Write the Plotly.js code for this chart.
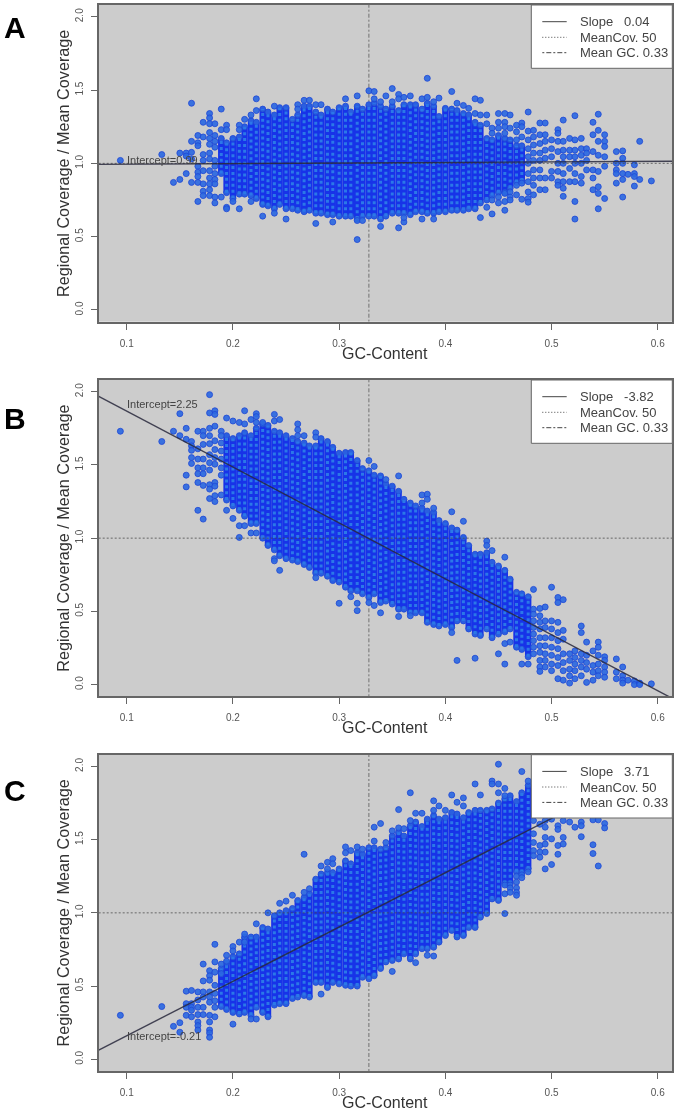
<!DOCTYPE html>
<html><head><meta charset="utf-8">
<script src="https://cdn.plot.ly/plotly-3.0.1.min.js"></script>
<style>html,body{margin:0;padding:0;background:#fff}#p{width:678px;height:1113px;filter:blur(.4px)}</style></head>
<body><div id="p"></div>
<script>
const panelNames=["A","B","C"];
const slopes=[0.04,-3.82,3.71];
const intercepts=[0.99,2.25,-0.21];
const meanCovRatio=1.0, meanGC=0.328;
const interceptLabels=["Intercept=0.99","Intercept=2.25","Intercept=-0.21"];
const interceptLabelY=[1.02,1.915,0.16];
const slopeLabels=["Slope\u00a0\u00a0\u00a00.04","Slope\u00a0\u00a0\u00a0-3.82","Slope\u00a0\u00a0\u00a03.71"];
const xTicks=[0.1,0.2,0.3,0.4,0.5,0.6];
const yTicks=[0,0.5,1,1.5,2];
const yTickText=["0.0","0.5","1.0","1.5","2.0"];

// dense body of each cloud: per GC column, the lowest and highest covered value
const coreGc=[.189,.194,.2,.206,.211,.217,.222,.228,.233,.239,.244,.25,.256,.261,.267,.272,.278,.283,.289,.294,.3,.306,.311,.317,.322,.328,.333,.339,.344,.35,.356,.361,.367,.372,.378,.383,.389,.394,.4,.406,.411,.417,.422,.428,.433,.439,.444,.45,.456,.461,.467,.472,.478];
const lowA=[.93,.80,.76,.79,.79,.78,.76,.72,.71,.69,.72,.69,.69,.68,.67,.68,.66,.66,.65,.65,.64,.64,.64,.62,.64,.64,.64,.62,.64,.66,.66,.66,.65,.67,.67,.66,.66,.67,.67,.68,.68,.68,.69,.69,.73,.75,.78,.80,.80,.83,.87,.88,null];
const highA=[1.17,1.14,1.17,1.18,1.25,1.29,1.28,1.37,1.35,1.33,1.38,1.38,1.30,1.33,1.39,1.39,1.35,1.33,1.37,1.35,1.38,1.39,1.35,1.39,1.37,1.40,1.41,1.39,1.37,1.39,1.36,1.40,1.40,1.40,1.37,1.41,1.39,1.32,1.375,1.37,1.36,1.34,1.33,1.28,1.26,1.17,1.16,1.19,1.17,1.16,1.12,1.12,null];
const lowB=[null,1.26,1.22,1.19,1.15,1.10,1.10,1.0,.95,.92,.88,.86,.85,.84,.82,.80,.76,.76,.74,.71,.70,.665,.64,.64,.62,.595,.62,.56,.57,.55,.515,.515,.49,.49,.49,.425,.41,.40,.41,.39,.435,.435,.38,.345,.335,.38,.32,.345,.36,.38,.255,.24,.19];
const highB=[null,1.70,1.68,1.70,1.72,1.70,1.75,1.78,1.77,1.73,1.72,1.70,1.68,1.66,1.65,1.63,1.63,1.68,1.66,1.62,1.58,1.585,1.585,1.53,1.475,1.46,1.43,1.425,1.37,1.355,1.32,1.265,1.24,1.22,1.205,1.185,1.175,1.12,1.10,1.07,1.055,1.005,.95,.89,.89,.90,.835,.81,.78,.72,.63,.62,.60];
const lowC=[.36,.34,.32,.31,.32,.30,.355,.32,.29,.37,.38,.38,.415,.425,.435,.425,.525,.525,.49,.525,.515,.505,.50,.50,.56,.55,.57,.62,.665,.675,.685,.72,.685,.72,.755,.755,.765,.80,.845,.88,.835,.845,.90,.90,.97,.995,1.095,1.085,1.2,1.2,1.28,1.275,1.30];
const highC=[.62,.66,.70,.72,.835,.835,.835,.90,.89,.98,1.0,1.015,1.03,1.085,1.105,1.13,1.23,1.265,1.275,1.275,1.30,1.355,1.335,1.41,1.40,1.445,1.445,1.435,1.445,1.525,1.55,1.525,1.595,1.62,1.59,1.64,1.665,1.64,1.65,1.685,1.675,1.65,1.685,1.70,1.70,1.70,1.71,1.75,1.78,1.80,1.76,1.82,1.87];

// individually readable points: [GC column, [values]]
const pointsA=[[.094,[1.02]],[.133,[1.06]],[.144,[.87]],[.15,[1.07,.89]],[.156,[1.07,1.05,.93]],[.161,[1.41,1.15,1.075,1.03,.87]],
[.167,[1.19,1.14,1.12,.98,.94,.91,.87,.74]],[.172,[1.28,1.18,1.06,1.02,.95,.86,.81,.78]],[.178,[1.34,1.31,1.27,1.21,1.17,1.13,1.07,1.03,.95,.9,.86,.82,.78]],
[.183,[1.27,1.19,1.15,1.11,1.02,.98,.93,.89,.86,.77,.73]],[.189,[1.37,1.23,.77]],[.194,[1.26,1.23,.70,.69]],[.2,[.74]],[.206,[1.26,1.23,.69]],[.211,[1.3]],[.217,[1.33,.74]],[.222,[1.36,1.44]],[.228,[.64]],[.239,[1.39,.66]],[.25,[.62]],[.261,[1.40,1.37]],[.267,[1.43]],[.272,[1.43]],[.278,[1.40,.59]],[.283,[1.40]],[.294,[.60]],
[.306,[1.44]],[.317,[1.46,.61,.48]],[.322,[.61]],[.328,[1.495]],[.333,[1.49,1.44]],[.339,[1.42,.57]],[.344,[1.46]],[.35,[1.51,1.42]],[.356,[1.47,1.44,.56]],[.361,[1.45,.60,.63]],[.367,[1.46]],[.378,[1.44,.62]],[.383,[1.58,1.45]],[.389,[1.42,.62]],[.394,[1.445]],[.406,[1.49]],[.411,[1.41]],[.417,[1.395]],[.422,[1.375]],[.428,[1.44,1.34]],[.433,[1.43,1.33,.63]],[.439,[1.33,1.27,.70]],
[.444,[1.24,1.205,.75,.655]],[.45,[1.34,1.28,1.24,.77,.73]],[.456,[1.34,1.28,1.25,1.205,.795,.74,.68]],[.461,[1.33,1.24,.805,.77,.75]],[.467,[1.26,1.215,1.16,.85,.785]],[.472,[1.275,1.25,1.18,.865,.755]],[.478,[1.35,1.22,1.16,1.10,1.045,1.0,.93,.875,.805,.76,.735]],[.483,[1.225,1.18,1.125,1.07,1.02,.955,.90,.85,.785]],[.489,[1.275,1.195,1.135,1.07,1.02,.955,.90,.82]],[.494,[1.275,1.195,1.15,1.09,1.035,.90,.82]],[.5,[1.16,1.10,1.045,.945,.90]],[.506,[1.23,1.205,1.15,1.08,1.0,.945,.875,.85]],[.511,[1.295,1.15,1.09,1.045,1.0,.93,.875,.83,.775]],[.517,[1.17,1.09,1.045,.965,.875]],[.522,[1.325,1.16,1.09,1.045,1.0,.93,.875,.74,.62]],[.528,[1.17,1.10,1.055,1.0,.91,.865]],[.533,[1.10,1.07,1.02,.955]],[.539,[1.28,1.195,1.08,.955,.90,.82]],[.544,[1.335,1.225,1.15,1.055,.945,.84,.795,.69]],[.55,[1.195,1.15,1.115,1.045,.98,.76]],[.561,[1.08,1.0,.955,.93,.865]],[.567,[1.085,1.035,1.0,.93,.89,.77]],[.572,[.925]],[.578,[.99,.93,.91,.845]],[.583,[1.15,.89]],[.594,[.88]]];
const pointsB=[[.094,[1.73]],[.133,[1.66]],[.144,[1.73]],[.15,[1.85,1.70]],[.156,[1.75,1.675,1.43,1.35]],[.161,[1.66,1.63,1.60,1.55,1.51]],[.167,[1.73,1.61,1.54,1.48,1.44,1.38,1.19]],[.172,[1.73,1.70,1.64,1.54,1.48,1.44,1.36,1.13]],[.178,[1.98,1.855,1.75,1.70,1.645,1.57,1.515,1.465,1.365,1.335,1.27]],[.183,[1.87,1.845,1.765,1.665,1.605,1.55,1.505,1.38,1.355,1.29,1.25]],[.189,[1.73,1.70,1.65,1.595,1.54,1.48,1.43,1.295]],[.194,[1.82,1.19]],[.2,[1.80,1.135]],[.206,[1.79,1.085,1.005]],[.211,[1.87,1.78,1.085]],[.217,[1.81,1.035]],[.222,[1.85,1.83,1.79,1.035]],[.228,[1.79]],[.239,[1.845,1.80,.86,.845]],[.244,[1.81,.78]],[.261,[1.78,1.74,1.70]],[.267,[1.70]],[.278,[1.72,1.69,.73]],[.3,[.555]],
[.311,[.60]],[.317,[.555,.505]],[.328,[1.53,.56]],[.333,[1.49,.54]],[.339,[.49]],[.344,[1.40]],[.356,[1.425,.465]],[.367,[.47]],[.378,[1.295,1.24]],[.383,[1.30,1.265]],[.389,[1.205]],[.406,[1.18,.355]],[.411,[.165]],[.417,[1.115]],[.428,[.18]],[.439,[.98,.95]],[.444,[.915]],[.45,[.21]],[.456,[.87,.28,.14]],[.461,[.29]],[.472,[.14]],[.478,[.14]],
[.483,[.65,.515,.48,.435,.39,.345,.30,.255,.21]],[.489,[.52,.47,.425,.38,.32,.265,.22,.165,.12,.09]],[.494,[.53,.435,.39,.32,.265,.21,.165,.12]],[.5,[.665,.435,.38,.32,.255,.20,.14,.095]],[.506,[.595,.56,.425,.355,.30,.245,.185,.13,.04]],[.511,[.58,.37,.31,.21,.15,.095,.03]],[.517,[.21,.165,.105,.06,.01]],[.522,[.23,.185,.14,.095,.04]],[.528,[.40,.355,.21,.165,.12,.06]],[.533,[.29,.20,.15,.105,.015]],[.539,[.23,.13,.085,.03]],[.544,[.29,.255,.20,.14,.095,.06]],[.55,[.19,.165,.12,.085,.05]],[.561,[.175,.085,.04]],[.567,[.12,.06,.03,.01]],[.572,[.03]],[.578,[.025,0]],[.583,[.01,0]],[.594,[.005]]];
const pointsC=[[.094,[.30]],[.133,[.36]],[.144,[.225]],[.15,[.25,.185]],[.156,[.465,.38,.355,.30]],[.161,[.47,.38,.355,.335,.29]],[.167,[.46,.405,.355,.305,.255,.23,.20]],[.172,[.65,.535,.46,.425,.355,.305]],[.178,[.605,.57,.54,.46,.425,.39,.30,.255,.2,.18,.15]],[.183,[.785,.665,.595,.505,.45,.40,.355,.29]],[.189,[.65,.585]],[.194,[.71,.67]],[.2,[.77,.74,.24]],[.206,[.80]],[.211,[.855,.80]],[.217,[.275]],[.222,[.925,.275]],[.233,[1.0]],[.244,[1.065]],[.25,[1.08]],[.256,[1.12]],[.267,[1.40,1.14]],[.272,[1.165]],[.283,[1.32,.445]],[.289,[1.345,1.30]],[.294,[1.37,1.335]],[.306,[1.45,1.41]],[.311,[1.425]],[.317,[1.45]],[.322,[1.435]],[.333,[1.585,1.49]],[.339,[1.61]],[.344,[1.48]],[.35,[1.56,.60]],[.356,[1.705,1.58]],[.361,[1.575]],[.367,[1.82,1.63]],[.372,[1.68,.66]],[.378,[1.68]],[.383,[.71]],[.389,[1.765,1.70,.705]],[.394,[1.73]],[.4,[1.70]],[.406,[1.805]],[.411,[1.755]],[.417,[1.785,1.73]],[.428,[1.88]],[.433,[1.805]],[.444,[1.90,1.88]],[.45,[2.015,1.88,1.82]],[.456,[1.85,1.80,1.19,1.13,.995]],[.461,[1.19,1.17,1.14]],[.467,[1.25,1.21,1.17,1.14,1.12]],[.472,[1.965,1.26,1.24]],[.478,[1.90,1.28]],[.483,[1.63,1.54,1.48,1.425,1.39]],[.489,[1.605,1.46,1.415,1.38]],[.494,[1.63,1.585,1.515,1.47,1.415,1.30]],[.5,[1.64,1.505,1.33]],[.506,[1.595,1.57,1.46,1.40]],[.511,[1.63,1.515,1.47]],[.517,[1.62]],[.522,[1.585]],[.528,[1.62,1.595,1.52]],[.539,[1.635,1.465,1.405]],[.544,[1.635,1.32]],[.55,[1.61,1.58]]];

const lows=[lowA,lowB,lowC], highs=[highA,highB,highC], points=[pointsA,pointsB,pointsC];
const W=678,H=1113,plotL=98.7,plotR=672.3,legL=531.3;
const tops=[5,380,754.7],bots=[321.7,696.3,1071];
const xR=[.0736,.6137],yR=[-.08,2.08];
const px=v=>v/W, py=v=>1-v/H;
const lineCol="rgba(40,40,60,0.85)";
const traces=[],shapes=[],annos=[],layout={};

panelNames.forEach((name,i)=>{
  const s=i?String(i+1):"", xa="x"+s, ya="y"+s;
  const base={xaxis:xa,yaxis:ya,showlegend:false,hoverinfo:"skip"};
  // mean GC line sits under the points
  traces.push({...base,type:"scatter",mode:"lines",x:[meanGC,meanGC],y:yR,line:{color:"rgba(90,90,90,.8)",width:1,dash:"2px,2px,4px,2px"}});
  const cx=[],cy=[],ex=[],ey=[];
  coreGc.forEach((g,k)=>{ if(lows[i][k]==null) return;
    cx.push(g,g,null); cy.push(lows[i][k],highs[i][k],null);
    ex.push(g,g); ey.push(lows[i][k],highs[i][k]); });
  traces.push({...base,type:"scatter",mode:"lines",connectgaps:false,x:cx,y:cy,line:{color:"#1733e8",width:6.4}});
  traces.push({...base,type:"scatter",mode:"markers",x:ex,y:ey,marker:{size:6,color:"#2a5fe0",line:{color:"#1e46d6",width:.8}}});
  traces.push({...base,type:"scatter",mode:"lines",connectgaps:false,x:cx,y:cy,line:{color:"#2b78e8",width:3,dash:"3px,2.9px"}});
  const fx=[],fy=[];
  points[i].forEach(([g,vals])=>vals.forEach(v=>{fx.push(g);fy.push(v);}));
  traces.push({...base,type:"scatter",mode:"markers",x:fx,y:fy,marker:{size:6,color:"rgba(45,105,225,.92)",line:{color:"#1e46d6",width:.8}}});
  traces.push({...base,type:"scatter",mode:"lines",x:xR,y:[meanCovRatio,meanCovRatio],line:{color:"rgba(70,70,70,.75)",width:1,dash:"2px,2px"}});
  traces.push({...base,type:"scatter",mode:"lines",x:xR,y:xR.map(x=>intercepts[i]+slopes[i]*x),line:{color:lineCol,width:1.4}});

  const t=tops[i],b=bots[i];
  layout["xaxis"+s]={domain:[px(plotL),px(plotR)],range:xR,anchor:ya,tickvals:xTicks,tickformat:".1f",ticks:"outside",ticklen:6,tickwidth:1,tickcolor:"#666",showgrid:false,zeroline:false,showline:true,mirror:true,linecolor:"#666",linewidth:2,tickfont:{family:"Liberation Sans",size:10,color:"#555"},ticklabelstandoff:5};
  layout["yaxis"+s]={domain:[py(b),py(t)],range:yR,anchor:xa,tickvals:yTicks,ticktext:yTickText,tickangle:-90,ticks:"outside",ticklen:6,tickwidth:1,tickcolor:"#666",showgrid:false,zeroline:false,showline:true,mirror:true,linecolor:"#666",linewidth:2,tickfont:{family:"Liberation Sans",size:10,color:"#555"},ticklabelstandoff:4,
    title:{text:"Regional Coverage / Mean Coverage",font:{family:"Liberation Sans",size:16.2,color:"#333"},standoff:0}};
  annos.push({xref:"paper",yref:"paper",x:px(385),y:py(b+31.5),xanchor:"center",yanchor:"middle",showarrow:false,text:"GC-Content",font:{family:"Liberation Sans",size:16,color:"#333"}});

  // legend box
  shapes.push({type:"rect",xref:"paper",yref:"paper",x0:px(legL),x1:px(plotR),y0:py(t+63.3),y1:py(t),fillcolor:"#fff",line:{color:"#666",width:1},layer:"above"});
  const rows=[16.7,32.3,47.7], dashes=["solid","1px,2px","2px,2px,5px,2px"], labels=[slopeLabels[i],"MeanCov. 50","Mean GC. 0.33"];
  rows.forEach((r,k)=>{
    shapes.push({type:"line",xref:"paper",yref:"paper",x0:px(542.3),x1:px(566.7),y0:py(t+r),y1:py(t+r),line:{color:"#444",width:1,dash:dashes[k]},layer:"above"});
    annos.push({xref:"paper",yref:"paper",x:px(578),y:py(t+r),xanchor:"left",yanchor:"middle",showarrow:false,text:labels[k],font:{family:"Liberation Sans",size:13,color:"#444"}});
  });
  annos.push({xref:xa,yref:ya,x:.1,y:interceptLabelY[i],xanchor:"left",yanchor:"middle",showarrow:false,xshift:-2,text:interceptLabels[i],font:{family:"Liberation Sans",size:11,color:"#444"}});
  annos.push({xref:"paper",yref:"paper",x:px(2),y:py([28,418,790][i]),xanchor:"left",yanchor:"middle",showarrow:false,text:"<b>"+name+"</b>",font:{family:"Liberation Sans",size:30,color:"#000"}});
});

Object.assign(layout,{width:W,height:H,margin:{l:0,r:0,t:0,b:0},paper_bgcolor:"#fff",plot_bgcolor:"#cccccc",showlegend:false,shapes,annotations:annos});
Plotly.newPlot("p",traces,layout,{staticPlot:true,displayModeBar:false});
</script></body></html>
